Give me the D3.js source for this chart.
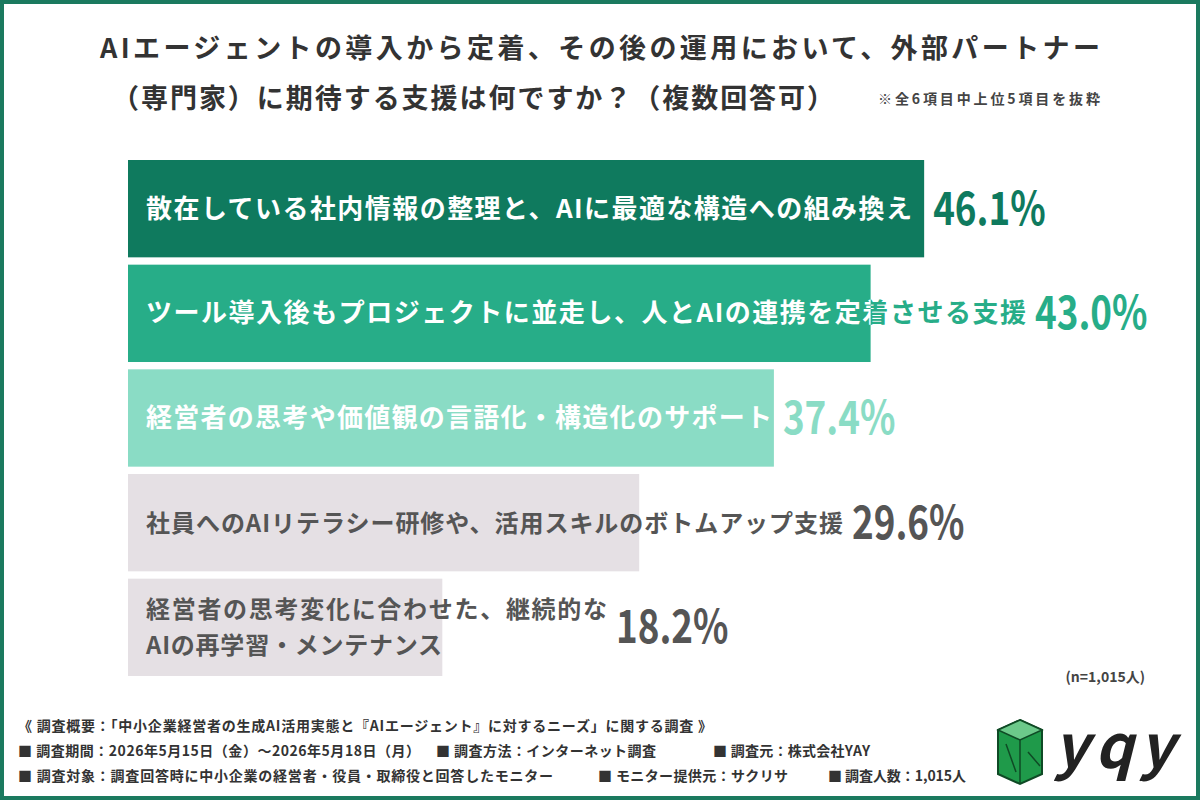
<!DOCTYPE html>
<html>
<head>
<meta charset="utf-8">
<script src="https://cdn.jsdelivr.net/npm/d3@7/dist/d3.min.js"></script>
<style>body{margin:0}text{font-family:"Noto Sans CJK JP","Noto Sans",sans-serif}</style>
</head>
<body>
<svg width="1200" height="800" id="mainsvg"></svg>
<script>
const categories = [
  ['散在している社内情報の整理と、AIに最適な構造への組み換え'],
  ['ツール導入後もプロジェクトに並走し、人とAIの連携を定着させる支援'],
  ['経営者の思考や価値観の言語化・構造化のサポート'],
  ['社員へのAIリテラシー研修や、活用スキルのボトムアップ支援'],
  ['経営者の思考変化に合わせた、継続的な', 'AIの再学習・メンテナンス']
];
const values = [46.1, 43.0, 37.4, 29.6, 18.2];
const barColors = ['#0f7a5e', '#27ad88', '#8adcc5', '#e5e0e4', '#e5e0e4'];
const labelColors = ['#ffffff', '#ffffff', '#ffffff', '#555555', '#555555'];
const valueColors = ['#0f7a5e', '#27ad88', '#8adcc5', '#555555', '#555555'];
const footer = [
  '《 調査概要：「中小企業経営者の生成AI活用実態と『AIエージェント』に対するニーズ」に関する調査 》',
  ['■ 調査期間：2026年5月15日（金）～2026年5月18日（月）', '■ 調査方法：インターネット調査', '■ 調査元：株式会社YAY'],
  ['■ 調査対象：調査回答時に中小企業の経営者・役員・取締役と回答したモニター', '■ モニター提供元：サクリサ', '■ 調査人数：1,015人']
];

const svg = d3.select('#mainsvg');
svg.append('rect').attr('x', 2).attr('y', 2).attr('width', 1196).attr('height', 796)
  .attr('fill', '#fff').attr('stroke', '#1b7a5f').attr('stroke-width', 4);

svg.append('text').attr('x', 100).attr('y', 58).attr('textLength', 1000)
  .attr('font-size', 27).attr('font-weight', 'bold').attr('fill', '#333')
  .text('AIエージェントの導入から定着、その後の運用において、外部パートナー');
svg.append('text').attr('x', 112).attr('y', 108).attr('textLength', 722)
  .attr('font-size', 27).attr('font-weight', 'bold').attr('fill', '#333')
  .text('（専門家）に期待する支援は何ですか？（複数回答可）');
svg.append('text').attr('x', 878).attr('y', 104).attr('textLength', 222).attr('font-size', 14)
  .attr('font-weight', 'bold').attr('fill', '#444').text('※全6項目中上位5項目を抜粋');

const x = d3.scaleLinear().domain([0, 100]).range([128, 1855]);
const y = d3.scaleBand().domain(d3.range(values.length)).range([160, 676]).paddingInner(0.07);
const labelLen = [[766], [880], [626], [697], [461, 296]];
const labelSize = [26, 26, 26, 24, 24];

svg.append('defs').selectAll('clipPath').data(values).join('clipPath')
  .attr('id', (d, i) => 'clip' + i)
  .append('rect').attr('x', x(0)).attr('y', (d, i) => y(i))
  .attr('width', d => x(d) - x(0)).attr('height', y.bandwidth());

const g = svg.append('g');
const rows = g.selectAll('.row').data(values).join('g').attr('class', 'row');
rows.append('rect').attr('x', x(0)).attr('y', (d, i) => y(i))
  .attr('width', d => x(d) - x(0)).attr('height', y.bandwidth())
  .attr('fill', (d, i) => barColors[i]);
rows.each(function (d, i) {
  const lines = categories[i];
  const cy = y(i) + y.bandwidth() / 2;
  const row = d3.select(this);
  const addLabel = (fill, clip) => {
    const t = row.append('text').attr('font-size', labelSize[i]).attr('font-weight', 'bold').attr('fill', fill);
    if (clip) t.attr('clip-path', `url(#clip${i})`);
    lines.forEach((l, k) => {
      t.append('tspan').attr('x', 146).attr('textLength', labelLen[i][k])
        .attr('y', cy + 9 + (k - (lines.length - 1) / 2) * 36).text(l);
    });
    return t;
  };
  // part outside the bar takes the bar colour, part inside stays in label colour
  addLabel(i < 3 ? barColors[i] : labelColors[i], false);
  if (i < 3) addLabel(labelColors[i], true);
  const textEnd = 146 + d3.max(labelLen[i]);
  const vx = Math.max(x(d), textEnd) + 9;
  row.append('text').attr('x', 0).attr('y', 0)
    .attr('transform', `translate(${vx},${cy + 16}) scale(0.8,1)`)
    .attr('font-size', 46).attr('font-weight', 'bold')
    .attr('font-family', 'Roboto, sans-serif').attr('fill', valueColors[i])
    .text(d.toFixed(1) + '%');
});

svg.append('text').attr('x', 1145).attr('y', 682).attr('text-anchor', 'end')
  .attr('font-size', 14).attr('font-weight', 'bold').attr('fill', '#444').text('(n=1,015人)');

const fg = svg.append('g').attr('font-size', 14).attr('font-weight', 'bold').attr('fill', '#333');
fg.append('text').attr('x', 18).attr('y', 731).attr('textLength', 694).text(footer[0]);
const colX = [18, 436, 713];
const w1 = [402, 220, 157];
const colX2 = [18, 598, 828];
const w2 = [535, 190, 138];
footer[1].forEach((s, i) => fg.append('text').attr('x', colX[i]).attr('y', 756).attr('textLength', w1[i]).text(s));
footer[2].forEach((s, i) => fg.append('text').attr('x', colX2[i]).attr('y', 781).attr('textLength', w2[i]).text(s));

// logo
const lg = svg.append('g').attr('transform', 'translate(998,720)');
lg.append('polygon').attr('points', '22,0 44,10 44,54 22,64 0,54 0,10').attr('fill', '#1f9a4a').attr('stroke', '#0f4a25').attr('stroke-width', 2);
lg.append('polygon').attr('points', '22,0 44,10 22,20 0,10').attr('fill', '#6cc98a').attr('stroke', '#0f4a25').attr('stroke-width', 1.5);
lg.append('path').attr('d', 'M22,20V64M8,24L18,52M30,32L42,46').attr('stroke', '#0f4a25').attr('stroke-width', 1.5).attr('fill', 'none');
svg.append('text').attr('x', 1054).attr('y', 768).attr('font-size', 60).attr('font-weight', 'bold')
  .attr('font-style', 'italic').attr('fill', '#222').attr('font-family', 'DejaVu Sans, sans-serif')
  .attr('textLength', 120).text('yqy');
</script>
</body>
</html>
